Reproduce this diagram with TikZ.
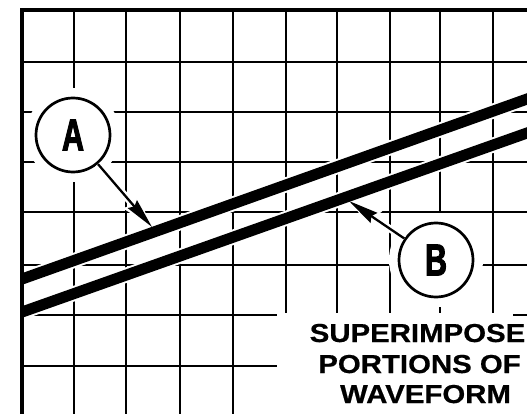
\documentclass[tikz,border=0pt]{standalone}
\usepackage{fontspec}
\usetikzlibrary{arrows.meta}
\newfontfamily\labfont[FakeStretch=1.13,FakeBold=0.6]{Liberation Sans}
\newfontfamily\circfont[FakeStretch=0.68,FakeBold=2]{Liberation Sans}
\begin{document}
\begin{tikzpicture}[x=1pt,y=-1pt,
  gridline/.style={line width=2.7pt},
  border/.style={line width=3.8pt,line join=miter},
  wave/.style={line width=11pt},
  wavehalo/.style={white,line width=15pt},
  callout/.style={circle,draw,line width=2.7pt,minimum size=74pt,inner sep=0pt,font=\circfont\bfseries\fontsize{45}{50}\selectfont},
  pointer/.style={line width=2.3pt,-{Stealth[length=30pt,width=12pt,inset=3pt]}},
  pointerhalo/.style={white,line width=7pt,-{Stealth[length=32pt,width=18pt,inset=3pt]}},
  caption/.style={anchor=base,inner sep=0pt,font=\labfont\bfseries\fontsize{26}{30}\selectfont}
]
\useasboundingbox (0,0) rectangle (527,414);
\clip (0,0) rectangle (527,414);
\fill[white] (0,0) rectangle (527,414);
% grid
\foreach \x in {74,126,180,233,286,337,390,440,493} \draw[gridline] (\x,10) -- (\x,414);
\foreach \y in {62,112,162,212,265,315,366} \draw[gridline] (22,\y) -- (527,\y);
% waveform portions
\begin{scope}
\clip (22,0) rectangle (527,414);
\draw[wavehalo] (10,283.3) -- (540,94.4);
\draw[wavehalo] (10,316.3) -- (540,128.4);
\draw[wave] (10,283.3) -- (540,94.4);
\draw[wave] (10,316.3) -- (540,128.4);
\end{scope}
% border
\draw[border] (22,414) -- (22,10) -- (527,10);
% callouts
\coordinate (pA) at (73,135);
\coordinate (pB) at (436,260);
\coordinate (tipA) at (152,227);
\coordinate (tipB) at (349,201);
\fill[white] (pA) circle[radius=47pt];
\fill[white] (pB) circle[radius=47pt];
\node[callout] (cA) at (pA) {A};
\node[callout] (cB) at (pB) {B};
\draw[pointerhalo] (cA) -- (tipA);
\draw[pointerhalo] (cB) -- (tipB);
\draw[pointer] (cA) -- (tipA);
\draw[pointer] (cB) -- (tipB);
% caption
\fill[white] (277,313) rectangle (513,414);
\fill[white] (513,317.5) rectangle (527,414);
\node[caption] (t1) at (417.5,342) {SUPERIMPOSE};
\node[caption] (t2) at (419.5,373) {PORTIONS OF};
\node[caption] (t3) at (425.5,403) {WAVEFORM};
\end{tikzpicture}
\end{document}
